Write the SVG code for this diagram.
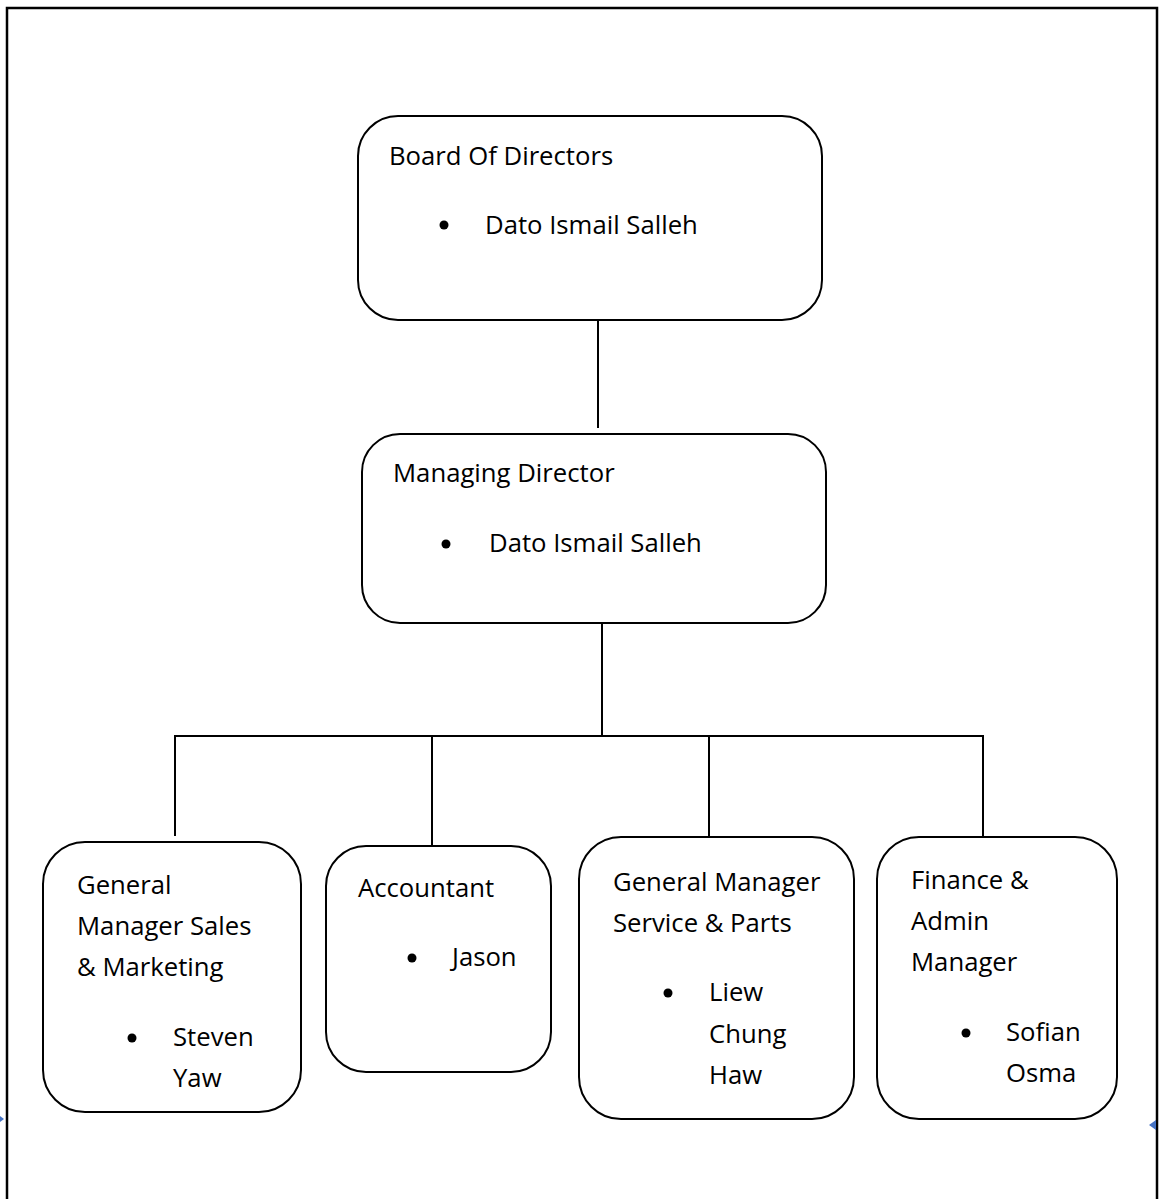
<svg xmlns="http://www.w3.org/2000/svg" width="1160" height="1199" viewBox="0 0 1160 1199">
<style>
.box{fill:#fff;stroke:#000;stroke-width:2}
.t{font-family:"Open Sans","Noto Sans","DejaVu Sans",sans-serif;font-size:25.7px;fill:#000}
.c{stroke:#000;stroke-width:2;fill:none}
.b{fill:#000}
.mk{fill:#4472c4}
</style>
<rect x="0" y="0" width="1160" height="1199" fill="#fff"/>
<rect x="7" y="8" width="1150" height="1200" fill="none" stroke="#000" stroke-width="2.5"/>
<g id="connectors">
<path class="c" d="M598 320V428"/>
<path class="c" d="M602 623V737"/>
<path class="c" d="M174 736H984"/>
<path class="c" d="M175 736V836"/>
<path class="c" d="M432 736V846"/>
<path class="c" d="M709 736V837"/>
<path class="c" d="M983 736V837"/>
</g>
<g id="board">
<rect class="box" x="358" y="116" width="464" height="204" rx="40"/>
<text class="t" x="389" y="165">Board Of Directors</text>
<circle class="b" cx="444" cy="225" r="4.5"/>
<text class="t" x="485" y="234">Dato Ismail Salleh</text>
</g>
<g id="md">
<rect class="box" x="362" y="434" width="464" height="189" rx="38"/>
<text class="t" x="393" y="482">Managing Director</text>
<circle class="b" cx="446" cy="544" r="4.5"/>
<text class="t" x="489" y="552">Dato Ismail Salleh</text>
</g>
<g id="gm-sales">
<rect class="box" x="43" y="842" width="258" height="270" rx="42"/>
<text class="t" x="77" y="894">General</text>
<text class="t" x="77" y="935">Manager Sales</text>
<text class="t" x="77" y="976">&amp; Marketing</text>
<circle class="b" cx="132" cy="1038" r="4.5"/>
<text class="t" x="173" y="1046">Steven</text>
<text class="t" x="173" y="1087">Yaw</text>
</g>
<g id="accountant">
<rect class="box" x="326" y="846" width="225" height="226" rx="40"/>
<text class="t" x="358" y="897">Accountant</text>
<circle class="b" cx="412" cy="958" r="4.5"/>
<text class="t" x="452" y="966">Jason</text>
</g>
<g id="gm-service">
<rect class="box" x="579" y="837" width="275" height="282" rx="42"/>
<text class="t" x="613" y="891">General Manager</text>
<text class="t" x="613" y="932">Service &amp; Parts</text>
<circle class="b" cx="668" cy="993" r="4.5"/>
<text class="t" x="709" y="1001">Liew</text>
<text class="t" x="709" y="1043">Chung</text>
<text class="t" x="709" y="1084">Haw</text>
</g>
<g id="finance">
<rect class="box" x="877" y="837" width="240" height="282" rx="42"/>
<text class="t" x="911" y="889">Finance &amp;</text>
<text class="t" x="911" y="930">Admin</text>
<text class="t" x="911" y="971">Manager</text>
<circle class="b" cx="966" cy="1033" r="4.5"/>
<text class="t" x="1006" y="1041">Sofian</text>
<text class="t" x="1006" y="1082">Osma</text>
</g>
<polygon class="mk" points="0,1116 4,1119 0,1122"/>
<polygon class="mk" points="1149,1125 1156,1120 1156,1130"/>
</svg>
